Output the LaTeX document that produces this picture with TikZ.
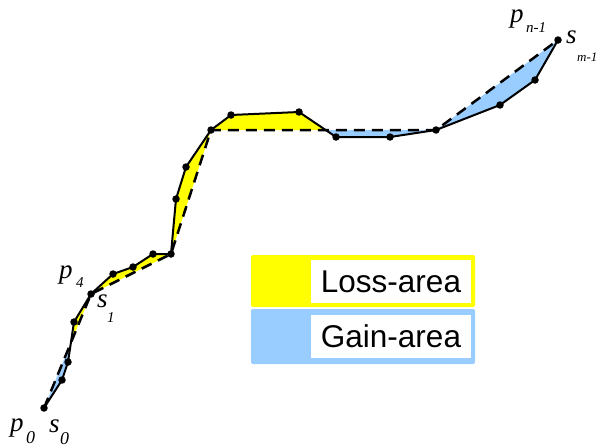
\documentclass[tikz,border=0pt]{standalone}
\usepackage{fontspec}
\setmainfont{Liberation Serif}
\setsansfont{Liberation Sans}
\definecolor{lossc}{RGB}{255,255,0}
\definecolor{gainc}{RGB}{153,204,255}
\tikzset{
  curve/.style={line width=2pt, line join=round},
  approx/.style={line width=2.5pt, dash pattern=on 11pt off 7pt},
  dotmark/.style={circle, fill=black, inner sep=0pt, minimum size=7.5pt},
  letter/.style={anchor=base west, inner sep=0pt, font=\fontsize{27}{27}\selectfont\itshape},
  subbig/.style={anchor=base west, inner sep=0pt, font=\fontsize{18}{18}\selectfont\itshape},
  subsmall/.style={anchor=base west, inner sep=0pt, font=\fontsize{15}{15}\selectfont\itshape},
  subtiny/.style={anchor=base west, inner sep=0pt, font=\fontsize{13}{13}\selectfont\itshape},
  legbox/.style={rounded corners=2pt},
  legtext/.style={fill=white, inner sep=0pt, minimum width=160pt, minimum height=43pt,
    font=\sffamily\fontsize{31.5}{31.5}\selectfont}
}
\begin{document}
\begin{tikzpicture}[x=1pt,y=-1pt]
\useasboundingbox (0,0) rectangle (597,447);
\clip (0,0) rectangle (597,447);
% points of the polyline
\coordinate (a0) at (44,408);
\coordinate (a1) at (62,380);
\coordinate (a2) at (68,362);
\coordinate (x1) at (70.88,342.8);
\coordinate (a3) at (74,322);
\coordinate (a4) at (91,294);
\coordinate (a5) at (113,274);
\coordinate (a6) at (133,267);
\coordinate (a7) at (153,254);
\coordinate (a8) at (171,254);
\coordinate (a9) at (176,199);
\coordinate (a10) at (186,167);
\coordinate (a11) at (211,130);
\coordinate (a12) at (231,115);
\coordinate (a13) at (299,112);
\coordinate (x2) at (325.6,130);
\coordinate (a14) at (336,137);
\coordinate (a15) at (390,137);
\coordinate (a16) at (436,130);
\coordinate (a17) at (500,105);
\coordinate (a18) at (535,80);
\coordinate (a19) at (558,40);
% areas
\fill[gainc] (a0) -- (a1) -- (a2) -- (x1) -- cycle;
\fill[lossc] (x1) -- (a3) -- (a4) -- cycle;
\fill[lossc] (a4) -- (a5) -- (a6) -- (a7) -- (a8) -- cycle;
\fill[lossc] (a8) -- (a9) -- (a10) -- (a11) -- cycle;
\fill[lossc] (a11) -- (a12) -- (a13) -- (x2) -- cycle;
\fill[gainc] (x2) -- (a14) -- (a15) -- (a16) -- cycle;
\fill[gainc] (a16) -- (a17) -- (a18) -- (a19) -- cycle;
% simplified line
\draw[approx] (a0) -- (a4) -- (a8) -- (a11) -- (a16) -- (a19);
% original line
\draw[curve] (a0) -- (a1) -- (a2) -- (a3) -- (a4) -- (a5) -- (a6) -- (a7) -- (a8) -- (a9) -- (a10) -- (a11) -- (a12) -- (a13) -- (a14) -- (a15) -- (a16) -- (a17) -- (a18) -- (a19);
\foreach \p in {a0,a1,a2,a3,a4,a5,a6,a7,a8,a9,a10,a11,a12,a13,a14,a15,a16,a17,a18,a19}
  \node[dotmark] (d\p) at (\p) {};
% labels
\node[letter] (p0) at (10,431) {p};
\node[subbig] (p0s) at (26,443) {0};
\node[letter] (s0) at (49,432) {s};
\node[subbig] (s0s) at (60,444) {0};
\node[letter] (p4) at (59,278) {p};
\node[subsmall] (p4s) at (76,287) {4};
\node[letter] (s1) at (97,307) {s};
\node[subsmall] (s1s) at (107,322) {1};
\node[letter] (pn) at (510,23) {p};
\node[subsmall] (pns) at (526,32) {n-1};
\node[letter] (sm) at (566,43) {s};
\node[subtiny] (sms) at (577,61) {m-1};
% legend
\fill[lossc, legbox] (251,255) rectangle (475,307);
\fill[gainc, legbox] (251,309) rectangle (475,364);
\node[legtext] (loss) at (391,281.5) {Loss-area};
\node[legtext] (gain) at (391,336.5) {Gain-area};
\end{tikzpicture}
\end{document}
